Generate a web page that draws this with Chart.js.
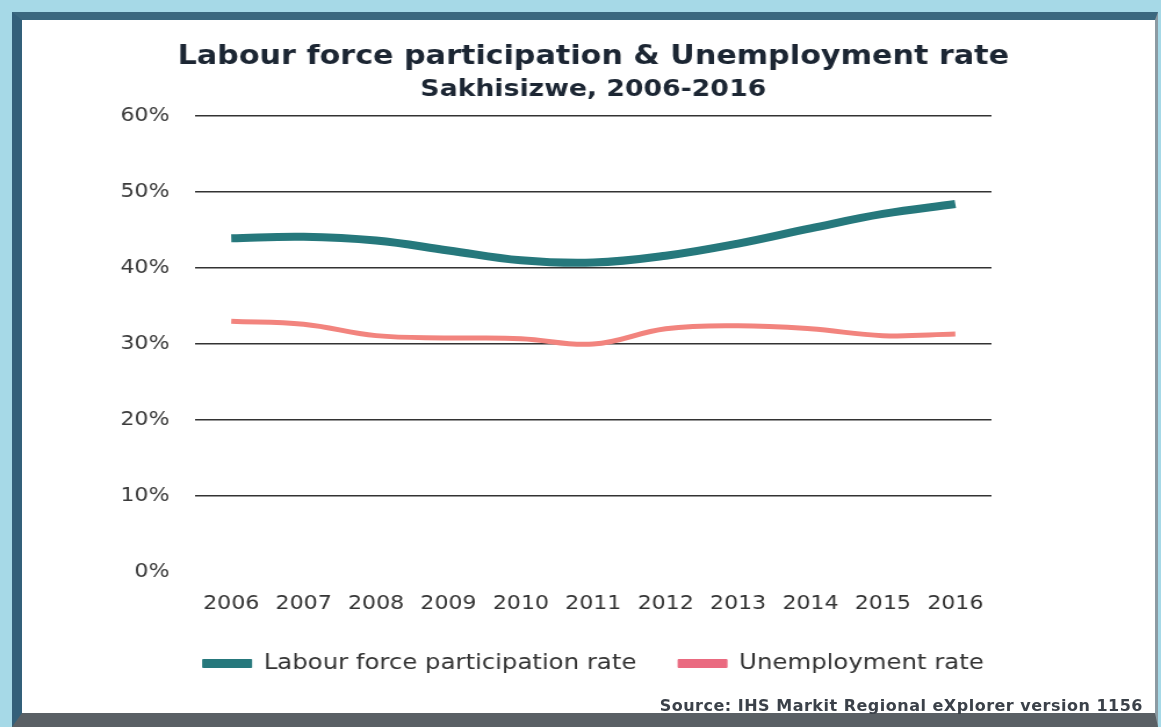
<!DOCTYPE html>
<html>
<head>
<meta charset="utf-8">
<title>Labour force participation & Unemployment rate</title>
<script src="https://cdn.jsdelivr.net/npm/chart.js@4.4.1/dist/chart.umd.min.js"></script>
<style>
  html, body { margin: 0; padding: 0; }
  body { width: 1161px; height: 727px; position: relative; overflow: hidden; background: #a6d9e7; }
  #frame {
    position: absolute; left: 12px; top: 12px; width: 1133px; height: 693px;
    background: #fff;
    border-left: 10px solid #33607a; border-top: 8px solid #3b687f;
    border-right: 3px solid #8c9ba3; border-bottom: 14px solid #5a6065;
  }
  /* chart is laid out 1000px wide and stretched sideways to fill the frame */
  #wrap {
    position: absolute; left: 0; top: 0; width: 1000px; height: 727px;
    transform: scaleX(1.161); transform-origin: 0 0;
  }
  #source {
    position: absolute; right: 18px; top: 696px;
    font: bold 16px 'DejaVu Sans', Verdana, sans-serif; letter-spacing: 0.5px; color: #3b4149;
  }
</style>
</head>
<body>
<div id="frame"></div>
<div id="wrap"><canvas id="chart"></canvas></div>
<div id="source">Source: IHS Markit Regional eXplorer version 1156</div>
<script>
var years = ['2006', '2007', '2008', '2009', '2010', '2011', '2012', '2013', '2014', '2015', '2016'];
var labourRate = [43.9, 44.1, 43.6, 42.3, 41.0, 40.7, 41.6, 43.2, 45.2, 47.1, 48.4];
var unemploymentRate = [33.0, 32.6, 31.1, 30.8, 30.7, 30.0, 32.0, 32.4, 32.0, 31.1, 31.3];
var yTicks = [0, 10, 20, 30, 40, 50, 60];

var teal = '#26787c';
var salmon = '#f2847e';

Chart.defaults.font.family = "'DejaVu Sans', Verdana, sans-serif";
Chart.defaults.color = '#333';

var chart = new Chart(document.getElementById('chart'), {
    type: 'line',
    data: {
        labels: years,
        datasets: [{
            label: 'Labour force participation rate',
            data: labourRate,
            borderColor: teal,
            backgroundColor: teal,
            borderWidth: 8,
            pointRadius: 0,
            tension: 0.4,
            yAxisID: 'y'
        }, {
            label: 'Unemployment rate',
            data: unemploymentRate,
            borderColor: salmon,
            backgroundColor: '#ea6a80',
            borderWidth: 5,
            pointRadius: 0,
            tension: 0.4,
            yAxisID: 'y'
        }]
    },
    options: {
        responsive: true,
        maintainAspectRatio: false,
        animation: false,
        layout: { padding: { left: 30, right: 8, top: 42, bottom: 43 } },
        plugins: {
            title: {
                display: true,
                text: 'Labour force participation & Unemployment rate',
                color: '#1c2633',
                font: { size: 26, weight: 'bold' },
                padding: { top: 0, bottom: 0 }
            },
            subtitle: {
                display: true,
                text: 'Sakhisizwe, 2006-2016',
                color: '#1c2633',
                font: { size: 23, weight: 'bold' },
                padding: { top: 3, bottom: 12 }
            },
            legend: {
                position: 'bottom',
                labels: {
                    font: { size: 21 },
                    color: '#333',
                    boxWidth: 42,
                    boxHeight: 8,
                    padding: 36,
                    generateLabels: function(c) {
                        var items = Chart.defaults.plugins.legend.labels.generateLabels(c);
                        items.forEach(function(it, i) {
                            it.fillStyle = c.data.datasets[i].backgroundColor;
                            it.strokeStyle = c.data.datasets[i].backgroundColor;
                            it.lineWidth = 1;
                        });
                        return items;
                    }
                }
            },
            tooltip: { enabled: false }
        },
        scales: {
            x: {
                offset: true,
                // pull the legend up closer to the year labels
                afterFit: function(scale) { scale.height = scale.height - 18; },
                grid: { display: false, drawTicks: false },
                border: { display: false },
                ticks: { font: { size: 19 }, color: '#333', padding: 20, maxRotation: 0, autoSkip: false }
            },
            y: {
                position: 'left',
                min: 0,
                max: 60,
                afterBuildTicks: function(scale) {
                    scale.ticks = yTicks.map(function(v) { return { value: v }; });
                },
                afterFit: function(scale) { scale.width = 138; },
                grid: {
                    color: function(ctx) { return ctx.tick && ctx.tick.value === 0 ? 'rgba(0,0,0,0)' : '#333'; },
                    lineWidth: 1.5,
                    drawTicks: false
                },
                border: { display: false },
                ticks: {
                    font: { size: 19 },
                    color: '#3a3a3a',
                    padding: 22,
                    callback: function(v) { return v + '%'; }
                }
            },
            yRight: {
                position: 'right',
                display: true,
                afterFit: function(scale) { scale.width = 138; },
                grid: { display: false, drawTicks: false },
                border: { display: false },
                ticks: { display: false }
            }
        }
    }
});
</script>
</body>
</html>
